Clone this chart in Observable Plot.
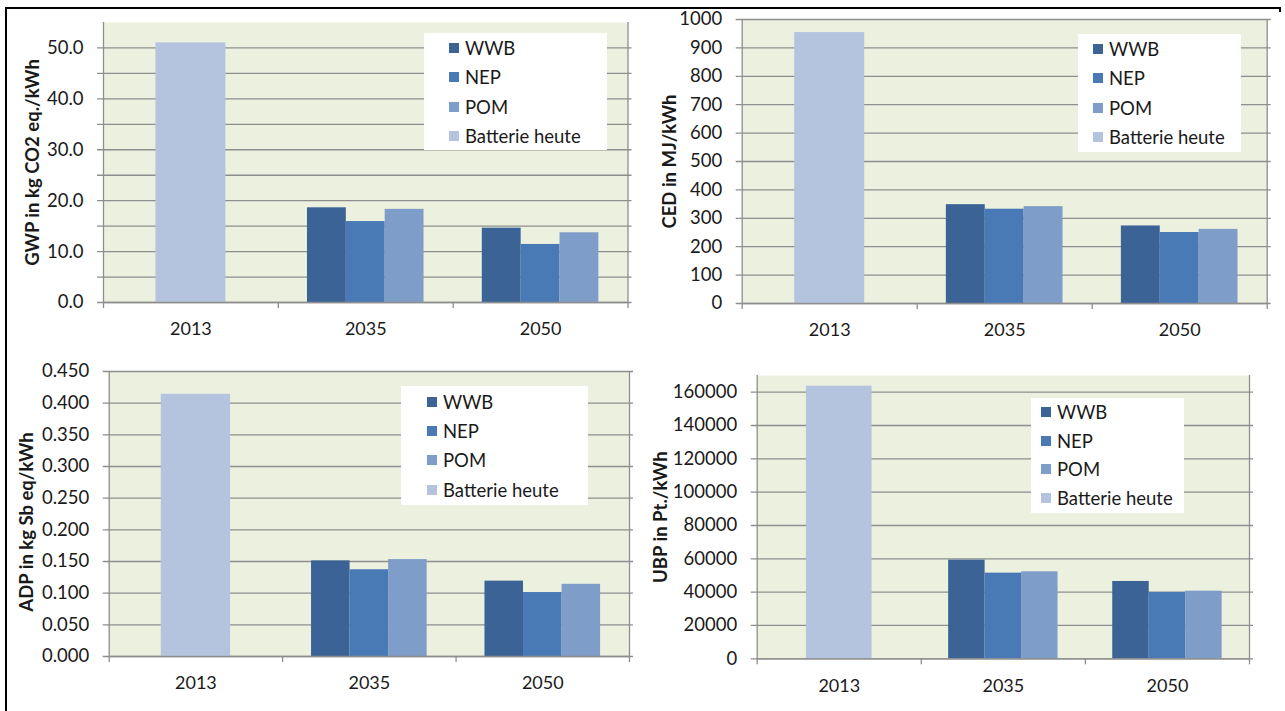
<!DOCTYPE html>
<html><head><meta charset="utf-8">
<script src="https://cdn.jsdelivr.net/npm/d3@7"></script>
<script src="https://cdn.jsdelivr.net/npm/@observablehq/plot@0.6"></script>
<style>
body{margin:0;background:#fff;}
#root{position:relative;width:1285px;height:711px;overflow:hidden;background:#fff;font-family:Lato,sans-serif;}
.panel{position:absolute;}
.legend{position:absolute;background:#fff;font-size:18.5px;color:#1a1a1a;font-family:Lato,sans-serif;}
.legend .row{position:absolute;height:22px;display:flex;align-items:center;white-space:nowrap;}
.legend .sw{display:inline-block;width:10px;height:10px;margin-right:6px;}
.bline{position:absolute;background:#000;}
</style></head><body><div id="root"></div>
<script>
// ---- data ----
const categories = ["2013", "2035", "2050"];
const seriesNames = ["WWB", "NEP", "POM", "Batterie heute"];
const seriesColors = ["#3b6396", "#4a7ab6", "#7f9dc9", "#b5c4de"];

const gwpWWB = [null, 18.6, 14.6];
const gwpNEP = [null, 15.9, 11.4];
const gwpPOM = [null, 18.3, 13.7];
const gwpBatt = [51.0, null, null];

const cedWWB = [null, 348, 273];
const cedNEP = [null, 332, 250];
const cedPOM = [null, 341, 261];
const cedBatt = [954, null, null];

const adpWWB = [null, 0.151, 0.119];
const adpNEP = [null, 0.137, 0.101];
const adpPOM = [null, 0.153, 0.114];
const adpBatt = [0.414, null, null];

const ubpWWB = [null, 59200, 46400];
const ubpNEP = [null, 51400, 39800];
const ubpPOM = [null, 52200, 40600];
const ubpBatt = [163600, null, null];

const gwpTickLabels = [0, 10, 20, 30, 40, 50];
const gwpGrid = [0, 5, 10, 15, 20, 25, 30, 35, 40, 45, 50];
const cedTickLabels = [0, 100, 200, 300, 400, 500, 600, 700, 800, 900, 1000];
const adpTickLabels = [0, 0.05, 0.1, 0.15, 0.2, 0.25, 0.3, 0.35, 0.4, 0.45];
const ubpTickLabels = [0, 20000, 40000, 60000, 80000, 100000, 120000, 140000, 160000];

const titles = ["GWP in kg CO2 eq./kWh", "CED in MJ/kWh", "ADP in kg Sb eq/kWh", "UBP in Pt./kWh"];

// ---- build rows (Excel-like clustered layout, gap width 150%) ----
function buildRows(valuesBySeries) {
  const rows = [];
  categories.forEach((cat, c) => {
    const present = seriesNames
      .map((s, i) => ({s, v: valuesBySeries[i][c]}))
      .filter(d => d.v != null);
    const w = 1 / (present.length + 1.5);
    present.forEach((d, k) => rows.push({
      category: cat, series: d.s, value: d.v,
      x1: c + w * (0.75 + k), x2: c + w * (1.75 + k)
    }));
  });
  return rows;
}

const panels = [
  {values: [gwpWWB, gwpNEP, gwpPOM, gwpBatt], title: titles[0], domain: [0, 55],
   labels: gwpTickLabels, grid: gwpGrid, fmt: d3.format(".1f"),
   left: 0, top: 0, width: 640, height: 350, ml: 103, mr: 12.5, mt: 22, mb: 48, titleDx: 70, titleDy: 0,
   legend: {left: 424, top: 33, width: 183, height: 117, swLeft: 25, rows: [48, 77, 107, 136]}},
  {values: [cedWWB, cedNEP, cedPOM, cedBatt], title: titles[1], domain: [0, 1000],
   labels: cedTickLabels, grid: cedTickLabels, fmt: d3.format("d"),
   left: 640, top: 0, width: 645, height: 350, ml: 101.7, mr: 18.3, mt: 19, mb: 47, titleDx: 72, titleDy: 0,
   legend: {left: 1078, top: 34, width: 163, height: 118, swLeft: 15, rows: [49, 78, 108, 137]}},
  {values: [adpWWB, adpNEP, adpPOM, adpBatt], title: titles[2], domain: [0, 0.45],
   labels: adpTickLabels, grid: adpTickLabels, fmt: d3.format(".3f"),
   left: 0, top: 350, width: 640, height: 361, ml: 108.7, mr: 11, mt: 21, mb: 55, titleDx: 82, titleDy: 8,
   legend: {left: 401, top: 386, width: 187, height: 119, swLeft: 26, rows: [402, 431, 460, 490]}},
  {values: [ubpWWB, ubpNEP, ubpPOM, ubpBatt], title: titles[3], domain: [0, 170000],
   labels: ubpTickLabels, grid: ubpTickLabels, fmt: d3.format("d"),
   left: 640, top: 350, width: 645, height: 361, ml: 116.7, mr: 36, mt: 25, mb: 52.7, titleDx: 96, titleDy: 0,
   legend: {left: 1031, top: 398, width: 153, height: 115, swLeft: 10, rows: [412, 441, 469, 498]}}
];

const root = document.getElementById("root");
const gridColor = "#8e8e8e";

panels.forEach(p => {
  const rows = buildRows(p.values);
  const svg = Plot.plot({
    width: p.width, height: p.height,
    marginLeft: p.ml, marginRight: p.mr, marginTop: p.mt, marginBottom: p.mb,
    x: {domain: [0, categories.length], axis: null, label: null},
    y: {domain: p.domain, axis: null, label: null},
    color: {domain: seriesNames, range: seriesColors},
    style: {fontFamily: "Lato, sans-serif", fontSize: "18px", color: "#1a1a1a", background: "transparent", overflow: "visible"},
    marks: [
      Plot.frame({fill: "#ebf1de", stroke: "none"}),
      Plot.ruleY(p.grid, {stroke: gridColor, strokeWidth: 1.3, insetLeft: -6, insetRight: -4}),
      Plot.rect(rows, {x1: "x1", x2: "x2", y1: 0, y2: "value", fill: "series"}),
      Plot.ruleX([0, categories.length], {stroke: gridColor, strokeWidth: 1.3}),
      Plot.ruleY([0], {stroke: gridColor, strokeWidth: 1.3}),
      Plot.axisX({ticks: d3.range(categories.length + 1), tickSize: 6, tickFormat: () => "", stroke: gridColor, strokeWidth: 1.3}),
      Plot.axisX({ticks: categories.map((c, i) => i + 0.5), tickSize: 0, tickPadding: 20,
                  tickFormat: d => categories[Math.floor(d)], fontSize: 18, fill: "#1a1a1a"}),
      Plot.axisY({ticks: p.labels, tickSize: 0, tickPadding: 20, tickFormat: p.fmt, fontSize: 18.5, fill: "#1a1a1a"}),
      Plot.text([p.title], {text: d => d, frameAnchor: "left", textAnchor: "middle", lineAnchor: "middle",
                            dx: -p.titleDx, dy: p.titleDy, rotate: -90,
                            fontWeight: "bold", fontSize: 18.5, fill: "#1a1a1a"})
    ]
  });
  svg.classList.add("panel");
  svg.style.left = p.left + "px";
  svg.style.top = p.top + "px";
  root.appendChild(svg);

  const lg = document.createElement("div");
  lg.className = "legend";
  Object.assign(lg.style, {left: p.legend.left + "px", top: p.legend.top + "px",
                           width: p.legend.width + "px", height: p.legend.height + "px"});
  seriesNames.forEach((s, i) => {
    const row = document.createElement("div");
    row.className = "row";
    row.style.left = p.legend.swLeft + "px";
    row.style.top = (p.legend.rows[i] - p.legend.top - 11) + "px";
    const sw = document.createElement("span");
    sw.className = "sw";
    sw.style.background = seriesColors[i];
    const tx = document.createElement("span");
    tx.textContent = s;
    row.appendChild(sw); row.appendChild(tx);
    lg.appendChild(row);
  });
  root.appendChild(lg);
});

// page frame lines
[{left: 5, top: 7, width: 1275, height: 2}, {left: 5, top: 7, width: 2, height: 704},
 {left: 1279, top: 7, width: 2, height: 5}].forEach(b => {
  const d = document.createElement("div");
  d.className = "bline";
  Object.assign(d.style, {left: b.left + "px", top: b.top + "px", width: b.width + "px", height: b.height + "px"});
  root.appendChild(d);
});
</script></body></html>
